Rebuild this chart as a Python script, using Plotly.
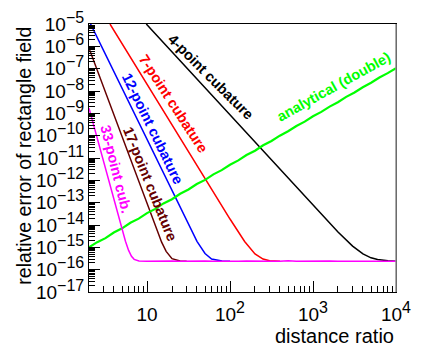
import plotly.graph_objects as go

# relative error vs distance ratio
x_4pt = [9.8, 20, 50, 100, 200, 500, 1000, 2000, 3000, 4000, 5000, 6000, 8000, 10000]
y_4pt = [1.0e-5, 5.6e-7, 1.4e-8, 8.3e-10, 5.1e-11, 1.26e-12, 7.6e-14, 4.9e-15,
         1.14e-15, 5.1e-16, 3.4e-16, 2.85e-16, 2.5e-16, 2.4e-16]

x_7pt = [3.58, 5, 10, 20, 50, 100, 150, 200, 250, 300, 400]
y_7pt = [1.0e-5, 1.33e-6, 2.0e-8, 3.1e-10, 1.2e-12, 1.85e-14, 1.83e-15, 5.1e-16,
         3.0e-16, 2.5e-16, 2.4e-16]

x_12pt = [2, 3, 5, 10, 20, 30, 40, 50, 60, 80, 100]
y_12pt = [1.4e-5, 6.4e-7, 1.3e-8, 6.4e-11, 3.2e-13, 1.5e-14, 1.85e-15, 5.3e-16,
          3.0e-16, 2.45e-16, 2.4e-16]

x_17pt = [2, 3, 5, 7, 10, 13, 15, 17, 20, 25, 30]
y_17pt = [8.3e-7, 1.45e-8, 8.7e-11, 3.0e-12, 8.5e-14, 6.2e-15, 1.7e-15, 6.6e-16,
          3.1e-16, 2.45e-16, 2.4e-16]

x_33pt = [2, 2.5, 3, 3.5, 4, 4.5, 5, 5.5, 6, 6.5, 7, 8,
          10, 13, 16, 20, 25, 32, 40, 50, 63, 80, 100, 126, 158, 200, 251, 316,
          398, 501, 631, 794, 1000, 1259, 1585, 1995, 2512, 3162, 3981, 5012,
          6310, 7943, 10000]
y_33pt = [1.7e-9, 7.9e-11, 6.6e-12, 8.0e-13, 1.28e-13, 2.6e-14, 6.0e-15, 1.88e-15,
          7.3e-16, 4.0e-16, 2.9e-16, 2.45e-16,
          2.38e-16, 2.44e-16, 2.35e-16, 2.42e-16, 2.39e-16, 2.47e-16, 2.36e-16,
          2.43e-16, 2.40e-16, 2.34e-16, 2.45e-16, 2.38e-16, 2.42e-16, 2.36e-16,
          2.44e-16, 2.40e-16, 2.37e-16, 2.48e-16, 2.39e-16, 2.43e-16, 2.35e-16,
          2.41e-16, 2.45e-16, 2.38e-16, 2.40e-16, 2.44e-16, 2.36e-16, 2.42e-16,
          2.39e-16, 2.46e-16, 2.40e-16]

x_anal = [2, 2.51, 3.16, 3.98, 5.01, 6.31, 7.94, 10, 12.6, 15.8, 20, 25.1, 31.6,
          39.8, 50.1, 63.1, 79.4, 100, 126, 158, 200, 251, 316, 398, 501, 631,
          794, 1000, 1259, 1585, 1995, 2512, 3162, 3981, 5012, 6310, 7943, 10000]
y_anal = [1.00e-15, 1.70e-15, 2.58e-15, 4.62e-15, 7.10e-15, 1.26e-14, 1.93e-14,
          3.40e-14, 5.25e-14, 9.25e-14, 1.42e-13, 2.50e-13, 3.88e-13, 6.80e-13,
          1.05e-12, 1.85e-12, 2.86e-12, 5.00e-12, 7.80e-12, 1.36e-11, 2.12e-11,
          3.70e-11, 5.75e-11, 1.00e-10, 1.57e-10, 2.72e-10, 4.25e-10, 7.40e-10,
          1.16e-9, 2.00e-9, 3.14e-9, 5.45e-9, 8.55e-9, 1.48e-8, 2.33e-8, 4.02e-8,
          6.30e-8, 1.06e-7]

SUP = '<sup><span style="font-size:16px">%s</span></sup>'
y_tickvals = [1e-17, 1e-16, 1e-15, 1e-14, 1e-13, 1e-12, 1e-11, 1e-10, 1e-9,
              1e-8, 1e-7, 1e-6, 1e-5]
y_ticktext = ['10' + SUP % ('−%d' % n) for n in range(17, 4, -1)]
x_tickvals = [10, 100, 1000, 10000]
x_ticktext = ['10', '10' + SUP % '2', '10' + SUP % '3', '10' + SUP % '4']

FONT = 'Liberation Sans'

fig = go.Figure()
series = [
    (x_4pt, y_4pt, 'black', 1.5),
    (x_7pt, y_7pt, '#ff0000', 1.5),
    (x_12pt, y_12pt, '#0000ff', 1.5),
    (x_17pt, y_17pt, '#660000', 1.5),
    (x_anal, y_anal, '#00ff00', 2.2),
    (x_33pt, y_33pt, '#ff00ff', 1.5),
]
for xs, ys, col, w in series:
    fig.add_trace(go.Scatter(x=xs, y=ys, mode='lines',
                             line=dict(color=col, width=w),
                             showlegend=False, hoverinfo='skip'))

# curve labels (x, y in log10 units), rotated along the lines
labels = [
    ('4-point cubature', 1.771, -7.365, 45, 'black'),
    ('7-point cubature', 1.319, -8.60, 57, '#ff0000'),
    ('12-point cubature', 1.066, -9.72, 64, '#0000ff'),
    ('17-point cubature', 1.036, -12.17, 68, '#660000'),
    ('33-point cub.', 0.626, -11.49, 76, '#ff00ff'),
    ('analytical (double)', 3.241, -7.81, -29, '#00ff00'),
]
for txt, lx, ly, ang, col in labels:
    fig.add_annotation(x=lx, y=ly, text='<b>' + txt + '</b>', showarrow=False,
                       textangle=ang, xanchor='center', yanchor='middle',
                       font=dict(family=FONT, size=14.5, color=col))

# axis titles
fig.add_annotation(x=1.0, y=-0.163, xref='paper', yref='paper', xanchor='right',
                   yanchor='middle', text='distance ratio', showarrow=False,
                   font=dict(family=FONT, size=20, color='black'))
fig.add_annotation(x=-0.21, y=0.507, xref='paper', yref='paper', xanchor='center',
                   yanchor='middle', text='relative error of rectangle field',
                   textangle=-90, showarrow=False,
                   font=dict(family=FONT, size=19.5, color='black'))

# right frame edge is grey in the original
fig.add_shape(type='line', xref='paper', yref='paper', x0=1, x1=1, y0=0, y1=1,
              line=dict(color='#909090', width=1.5))

fig.update_xaxes(type='log', range=[0.30103, 4], automargin=False,
                 tickvals=x_tickvals, ticktext=x_ticktext,
                 ticks='inside', ticklen=11, tickcolor='black', ticklabelstandoff=5,
                 minor=dict(ticks='inside', ticklen=6, dtick='D1', tickcolor='black'),
                 showline=True, linecolor='black', linewidth=1, mirror=True,
                 showgrid=False, zeroline=False,
                 tickfont=dict(family=FONT, size=19, color='black'))
fig.update_yaxes(type='log', range=[-17, -5], automargin=False,
                 tickvals=y_tickvals, ticktext=y_ticktext,
                 ticks='inside', ticklen=11, tickcolor='black',
                 minor=dict(ticks='inside', ticklen=6, dtick='D1', tickcolor='black'),
                 showline=True, linecolor='black', linewidth=1, mirror=True,
                 showgrid=False, zeroline=False,
                 tickfont=dict(family=FONT, size=19, color='black'))

# the page body has an 8px default margin, so size the figure to fit inside it
fig.update_layout(width=437, height=344,
                  margin=dict(l=81, r=49, t=16, b=60),
                  paper_bgcolor='white', plot_bgcolor='white')

fig.write_html('out.html')
